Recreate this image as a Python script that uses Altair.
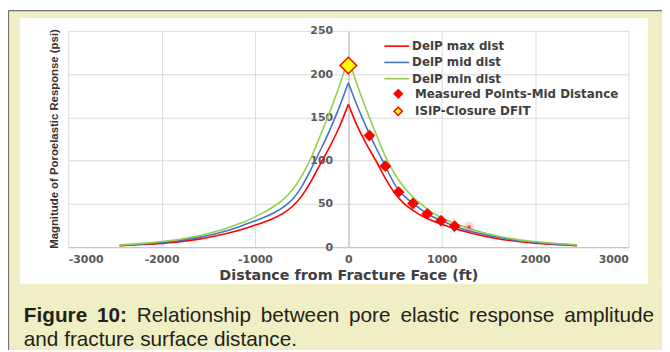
import altair as alt
import pandas as pd

# ---------------- data ----------------
series_names = ["DelP max dist", "DelP mid dist", "DelP min dist"]
line_colors = ["#ff0000", "#4472c4", "#92d050"]

x_right = [0, 100, 200, 300, 400, 500, 600, 700, 800, 900, 1000, 1100, 1200, 1400, 1600, 1800, 2000, 2200, 2450]
red_right = [165, 139, 118, 99, 79, 62, 50, 42, 35.5, 30.5, 26.5, 22.8, 19.5, 14, 9.8, 6.8, 4.6, 3.1, 1.8]
blue_right = [190, 162, 137, 114, 93, 72, 59, 50, 42, 35.5, 30.5, 26, 22, 16, 11.5, 8, 5.5, 3.8, 2.3]
green_right = [218, 186, 157, 130, 104, 84, 69, 57, 48, 40, 34, 29, 25, 18, 12.8, 9, 6.5, 4.5, 2.8]

x_left = [0, -100, -200, -300, -400, -500, -600, -700, -800, -900, -1000, -1100, -1200, -1400, -1600, -1800, -2000, -2200, -2450]
red_left = [165, 138, 116, 96, 76, 59, 47, 39, 33.5, 29, 25.5, 22, 18.8, 13.5, 9.3, 6.4, 4.4, 3, 1.6]
blue_left = [190, 161, 135, 112, 90, 70, 55, 46, 39.5, 34.5, 30.5, 26.5, 22.5, 16, 11.3, 7.8, 5.4, 3.6, 1.9]
green_left = [218, 185, 156, 129, 103, 82, 66, 55, 47, 40.5, 35, 30, 26, 18.6, 13.2, 9.2, 6.5, 4.4, 2.6]

point_names = ["Measured Points-Mid Distance", "ISIP-Closure DFIT"]
meas_x = [226, 396, 538, 693, 845, 993, 1138]
meas_y = [129, 93.6, 63.6, 50.6, 38.5, 30.5, 24.3]
faint_x = [1294]
faint_y = [23.6]
isip_x = [0]
isip_y = [210]

x_ticks = [-3000, -2000, -1000, 0, 1000, 2000, 3000]
y_ticks = [0, 50, 100, 150, 200, 250]

x_title = "Distance from Fracture Face (ft)"
y_title = "Magnitude of Poroelastic Response (psi)"
cap_bold = ["Figure", "10:"]
cap_reg = ["Relationship", "between", "pore", "elastic", "response", "amplitude"]
cap_line2 = "and fracture surface distance."

# ---------------- tables ----------------
rows = []
for name, side, xs, ys in [
    (series_names[0], "L", x_left, red_left), (series_names[0], "R", x_right, red_right),
    (series_names[1], "L", x_left, blue_left), (series_names[1], "R", x_right, blue_right),
    (series_names[2], "L", x_left, green_left), (series_names[2], "R", x_right, green_right),
]:
    for x, y in zip(xs, ys):
        rows.append({"series": name, "side": side, "x": x, "y": y})
curves = pd.DataFrame(rows)
meas = pd.DataFrame({"x": meas_x, "y": meas_y, "ptype": point_names[0]})
isip = pd.DataFrame({"x": isip_x, "y": isip_y, "ptype": point_names[1]})
faint = pd.DataFrame({"x": faint_x, "y": faint_y})
one = pd.DataFrame({"a": [1]})

# ---------------- layout (page pixels -> plot coords) ----------------
W, H = 567, 219
PX0, PY0 = 69, 29
def px(v):
    return v - PX0
def py(v):
    return v - PY0

FONT = "DejaVu Sans"
BEIGE = "#f0eec4"

xscale = alt.Scale(domain=[-3000, 3000], nice=False)
yscale = alt.Scale(domain=[0, 250], nice=False)

x_axis = alt.Axis(values=x_ticks, grid=True, gridColor="#d9d9d9", domainColor="#bfbfbf",
                  ticks=False, labelExpr="'' + datum.value", labelFont=FONT, labelFontSize=11,
                  labelFontWeight="bold", labelColor="#595959", labelPadding=7,
                  title=x_title, titleFont=FONT, titleFontSize=14.5, titleFontWeight="bold",
                  titleColor="#404040", titleY=29, titleBaseline="middle")
y_axis = alt.Axis(values=y_ticks, grid=True, gridColor="#d9d9d9", domainColor="#bfbfbf",
                  ticks=False, offset=-283.5, labelFont=FONT, labelFontSize=11,
                  labelFontWeight="bold", labelColor="#595959", labelPadding=16,
                  title=y_title, titleFont="Liberation Sans", titleFontSize=11.5,
                  titleFontWeight="bold", titleColor="#333333", titleAngle=270,
                  titleX=55 - 352.5, titleY=138 - PY0, titleAlign="center", titleBaseline="middle")

line_legend = alt.Legend(title=None, orient="none", legendX=325, legendY=8, padding=0,
                         symbolType="M-2,0H2", symbolSize=156, symbolStrokeWidth=1.6,
                         labelFont=FONT, labelFontSize=12, labelFontWeight="bold",
                         labelColor="#404040", labelOffset=8, rowPadding=2.5, labelLimit=300)
pt_legend = alt.Legend(title=None, orient="none", legendX=328, legendY=57.8, padding=0,
                       symbolType="diamond", symbolSize=70, symbolStrokeWidth=1.5,
                       labelFont=FONT, labelFontSize=12, labelFontWeight="bold",
                       labelColor="#404040", labelOffset=11, rowPadding=1.7, labelLimit=300)

lines = alt.Chart(curves).mark_line(strokeWidth=1.6, interpolate="monotone").encode(
    x=alt.X("x:Q", scale=xscale, axis=x_axis),
    y=alt.Y("y:Q", scale=yscale, axis=y_axis),
    color=alt.Color("series:N", scale=alt.Scale(domain=series_names, range=line_colors), legend=line_legend),
    detail="side:N",
)

fill_enc = alt.Fill("ptype:N", scale=alt.Scale(domain=point_names, range=["#ff0000", "#ffff00"]), legend=pt_legend)
stroke_enc = alt.Stroke("ptype:N", scale=alt.Scale(domain=point_names, range=["#ff0000", "#ff0000"]), legend=pt_legend)

meas_pts = alt.Chart(meas).mark_point(shape="diamond", filled=True, size=120, strokeWidth=1, opacity=1).encode(
    x="x:Q", y="y:Q", fill=fill_enc, stroke=stroke_enc)
isip_pts = alt.Chart(isip).mark_point(shape="diamond", filled=True, size=280, strokeWidth=1.5, opacity=1).encode(
    x="x:Q", y="y:Q", fill=fill_enc, stroke=stroke_enc)
faint_halo = alt.Chart(faint).mark_circle(color="#ff0000", opacity=0.15, size=110).encode(x="x:Q", y="y:Q")
faint_dot = alt.Chart(faint).mark_circle(color="#ff0000", opacity=0.6, size=14).encode(x="x:Q", y="y:Q")

# ---------------- frame decorations ----------------
def rect(x1, x2, y1, y2, color):
    return alt.Chart(one).mark_rect(color=color).encode(
        x=alt.value(px(x1)), x2=alt.value(px(x2)), y=alt.value(py(y1)), y2=alt.value(py(y2)))

frame = [
    rect(8, 670, 8, 16, BEIGE),
    rect(8, 20, 16, 285, BEIGE),
    rect(656, 670, 16, 285, BEIGE),
    rect(8, 670, 285, 352, BEIGE),
    alt.Chart(one).mark_rule(color="#707070", strokeWidth=1.2).encode(
        x=alt.value(px(8.5)), x2=alt.value(px(670)), y=alt.value(py(8.5))),
    alt.Chart(one).mark_rule(color="#707070", strokeWidth=1.2).encode(
        x=alt.value(px(8.5)), y=alt.value(py(8.5)), y2=alt.value(py(352))),
]

# ---------------- caption (justified first line) ----------------
REG = {"R": 722, "e": 556, "l": 222, "a": 556, "t": 278, "i": 222, "o": 556, "n": 556, "s": 500,
       "h": 556, "p": 556, "b": 556, "w": 722, "c": 500, "m": 833, "u": 556, "d": 556, "r": 333}
BOLD = {"F": 611, "i": 278, "g": 611, "u": 611, "r": 389, "e": 556, "1": 556, "0": 556, ":": 333}
CAP_SIZE = 21
def wid(word, table):
    return sum(table[c] for c in word) * CAP_SIZE / 1000.0

words = [(w, True) for w in cap_bold] + [(w, False) for w in cap_reg]
widths = [wid(w, BOLD if b else REG) for w, b in words]
left, right = 24, 662
gap = (right - left - sum(widths)) / (len(words) - 1)
caption = []
xpos = left
for (w, b), ww in zip(words, widths):
    caption.append(alt.Chart(one).mark_text(
        align="left", baseline="alphabetic", font="Liberation Sans", fontSize=CAP_SIZE,
        fontWeight="bold" if b else "normal", color="#231f20").encode(
        x=alt.value(px(xpos)), y=alt.value(py(324)), text=alt.value(w)))
    xpos += ww + gap
caption.append(alt.Chart(one).mark_text(
    align="left", baseline="alphabetic", font="Liberation Sans", fontSize=CAP_SIZE,
    color="#231f20").encode(x=alt.value(px(24)), y=alt.value(py(348)), text=alt.value(cap_line2)))

chart = alt.layer(
    lines, faint_halo, faint_dot, meas_pts, isip_pts, *frame, *caption
).resolve_scale(fill="shared", stroke="shared").properties(
    width=W, height=H,
    background="white",
    padding={"left": 61, "top": 21, "right": 34, "bottom": 104},
    autosize=alt.AutoSizeParams(type="none"),
).configure_view(stroke=None)

chart.save("out.html", embed_options={"renderer": "svg", "actions": False})
